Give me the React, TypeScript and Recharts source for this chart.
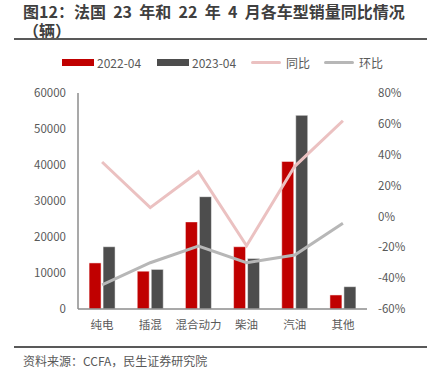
import React from 'react';
import { ComposedChart, Bar, Line, XAxis, YAxis } from 'recharts';

const categories = ['纯电', '插混', '混合动力', '柴油', '汽油', '其他'];
const sales2022 = [12800, 10500, 24200, 17300, 41000, 3900];
const sales2023 = [17300, 11000, 31200, 14000, 53800, 6200];
const yoy = [35.3, 5.7, 29, -19, 32.5, 62];
const mom = [-44.3, -30, -19.3, -30, -25, -4.4];
const leftTicks = [0, 10000, 20000, 30000, 40000, 50000, 60000];
const rightTicks = [-60, -40, -20, 0, 20, 40, 60, 80];

const data = categories.map((c, i) => ({
  name: c,
  s2022: sales2022[i],
  s2023: sales2023[i],
  yoy: yoy[i],
  mom: mom[i],
}));

const FONT = '"Noto Sans CJK SC", "Noto Sans", sans-serif';
const RED = '#C00000';
const DARK = '#4D4D4D';
const PINK = '#EBC1C1';
const GRAY = '#B7B7B7';
const TXT = '#595959';

const legendItems = [
  { label: '2022-04', color: RED, kind: 'bar' },
  { label: '2023-04', color: DARK, kind: 'bar' },
  { label: '同比', color: PINK, kind: 'line' },
  { label: '环比', color: GRAY, kind: 'line' },
];

export default function App() {
  const tick = { fill: TXT, fontSize: 11.5, fontFamily: FONT };
  const titleStyle: React.CSSProperties = { position: 'absolute', left: 23, fontSize: 16, fontWeight: 700, color: '#3F3F3F', lineHeight: '18px', whiteSpace: 'pre' };
  return (
    <div style={{ position: 'absolute', left: 0, top: 0, width: 427, height: 376, background: '#fff', fontFamily: FONT, overflow: 'hidden' }}>
      <div style={{ ...titleStyle, top: 2 }}>
        {'图12：法国  23  年和  22  年  4  月各车型销量同比情况'}
      </div>
      <div style={{ ...titleStyle, top: 21 }}>
        {'（辆）'}
      </div>
      <div style={{ position: 'absolute', left: 14, top: 38, width: 413, height: 2, background: '#595959' }} />
      <div style={{ position: 'absolute', left: 0, top: 53, width: 427, fontSize: 12, color: TXT }}>
        {legendItems.map((it, i) => (
          <div key={it.label} style={{ position: 'absolute', left: [62, 157, 251, 324][i], display: 'flex', alignItems: 'center', height: 18 }}>
            <div style={{ width: it.kind === 'bar' ? 32 : 30, height: it.kind === 'bar' ? 7 : 3, background: it.color, borderRadius: it.kind === 'line' ? 2 : 0, marginRight: it.kind === 'bar' ? 3 : 5 }} />
            <span>{it.label}</span>
          </div>
        ))}
      </div>
      <div style={{ position: 'absolute', left: 0, top: 0 }}>
        <ComposedChart width={427} height={376} data={data} margin={{ top: 93, right: 0, bottom: 37, left: 0 }} barGap={2} barCategoryGap="23%">
          <XAxis dataKey="name" axisLine={{ stroke: '#8C8C8C', strokeWidth: 1.5 }} tickLine={false} tick={tick} tickSize={0} tickMargin={12} height={30} interval={0} />
          <YAxis yAxisId="left" domain={[0, 60000]} ticks={leftTicks} axisLine={{ stroke: '#8C8C8C', strokeWidth: 1.5 }} tickLine={false} tick={tick} tickSize={0} tickMargin={12} width={78} interval={0} />
          <YAxis yAxisId="right" orientation="right" domain={[-60, 80]} ticks={rightTicks} axisLine={false} tickLine={false} tick={{ ...tick, textAnchor: 'start' }} tickSize={0} tickMargin={11} width={60} interval={0} tickFormatter={(v: number) => `${v}%`} />
          <Bar yAxisId="left" dataKey="s2022" fill={RED} stroke="#fff" strokeWidth={0.5} isAnimationActive={false} />
          <Bar yAxisId="left" dataKey="s2023" fill={DARK} stroke="#fff" strokeWidth={0.5} isAnimationActive={false} />
          <Line yAxisId="right" dataKey="yoy" stroke={PINK} strokeWidth={3} dot={false} type="linear" isAnimationActive={false} />
          <Line yAxisId="right" dataKey="mom" stroke={GRAY} strokeWidth={3} dot={false} type="linear" isAnimationActive={false} />
        </ComposedChart>
      </div>
      <div style={{ position: 'absolute', left: 14, top: 346, width: 413, height: 2, background: '#595959' }} />
      <div style={{ position: 'absolute', left: 23, top: 352, fontSize: 12, color: TXT, lineHeight: '18px' }}>
        资料来源：CCFA，民生证券研究院
      </div>
    </div>
  );
}
